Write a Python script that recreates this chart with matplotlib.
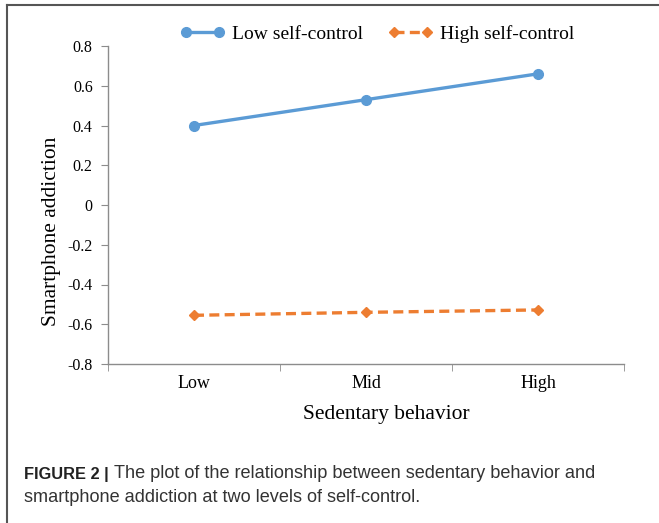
import matplotlib.pyplot as plt
from matplotlib.lines import Line2D
from matplotlib.ticker import FixedLocator

# data
categories = ['Low', 'Mid', 'High']
low_self_control = [0.40, 0.53, 0.66]
high_self_control = [-0.555, -0.54, -0.528]
y_ticks = [-0.8, -0.6, -0.4, -0.2, 0, 0.2, 0.4, 0.6, 0.8]
y_tick_labels = ['-0.8', '-0.6', '-0.4', '-0.2', '0', '0.2', '0.4', '0.6', '0.8']

serif = 'Liberation Serif'
sans = 'Liberation Sans'
blue = '#5B9BD5'
orange = '#ED7D31'
axis_grey = '#8c8c8c'

fig = plt.figure(figsize=(6.59, 5.23), dpi=100)
ax = fig.add_axes([108 / 659, 1 - 364 / 523, 516 / 659, 318 / 523])

x = list(range(len(categories)))
ax.plot(x, low_self_control, color=blue, lw=2.4, marker='o', ms=7,
        label='Low self-control')
ax.plot(x, high_self_control, color=orange, lw=2.4, ls=(0, (3, 1.6)),
        marker='D', ms=5, label='High self-control')

ax.set_xlim(-0.5, 2.5)
ax.set_ylim(-0.8, 0.8)
ax.set_yticks(y_ticks)
ax.set_yticklabels(y_tick_labels, fontfamily=serif, fontsize=11.5)
ax.set_xticks(x)
ax.set_xticklabels(categories, fontfamily=serif, fontsize=13)
ax.xaxis.set_minor_locator(FixedLocator([-0.5, 0.5, 1.5, 2.5]))
ax.tick_params(axis='x', which='major', length=0, pad=8)
ax.tick_params(axis='x', which='minor', length=5, color=axis_grey, direction='out')
ax.tick_params(axis='y', length=5, color=axis_grey, direction='out', pad=6)

for side in ['top', 'right']:
    ax.spines[side].set_visible(False)
for side in ['left', 'bottom']:
    ax.spines[side].set_color(axis_grey)
    ax.spines[side].set_linewidth(1.0)

ax.set_xlabel('Sedentary behavior', fontfamily=serif, fontsize=15.5, va='center')
ax.xaxis.set_label_coords((386 - 108) / 516, -(415 - 364) / 318)
ax.set_ylabel('Smartphone addiction', fontfamily=serif, fontsize=15.5, va='center')
ax.yaxis.set_label_coords((51 - 108) / 516, (364 - 231) / 318)

leg = fig.legend(loc='center', bbox_to_anchor=(377 / 659, 1 - 34 / 523), ncol=2,
                 frameon=False, numpoints=2, handlelength=2.3, handletextpad=0.35,
                 columnspacing=1.3, prop={'family': serif, 'size': 14})

# caption: bold lead-in, then the rest of the first line placed right after it
y1 = 1 - 474 / 523
lead = fig.text(24 / 659, y1, 'FIGURE 2 |', fontfamily=sans,
                fontweight='bold', fontsize=11.8, color='#222222', va='center')
fig.canvas.draw()
lead_end = lead.get_window_extent().x1 / fig.bbox.width
fig.text(lead_end + 5 / 659, y1,
         'The plot of the relationship between sedentary behavior and',
         fontfamily=sans, fontsize=13.1, color='#333333', va='center')
fig.text(24 / 659, 1 - 498 / 523, 'smartphone addiction at two levels of self-control.',
         fontfamily=sans, fontsize=13.1, color='#333333', va='center')

# frame around the figure panel
fig.add_artist(Line2D([7 / 659, 1], [1 - 5 / 523, 1 - 5 / 523], transform=fig.transFigure,
                      color='#555555', lw=1.5))
fig.add_artist(Line2D([7 / 659, 7 / 659], [0, 1 - 5 / 523], transform=fig.transFigure,
                      color='#555555', lw=1.5))

fig.savefig('out.png', dpi=100)
